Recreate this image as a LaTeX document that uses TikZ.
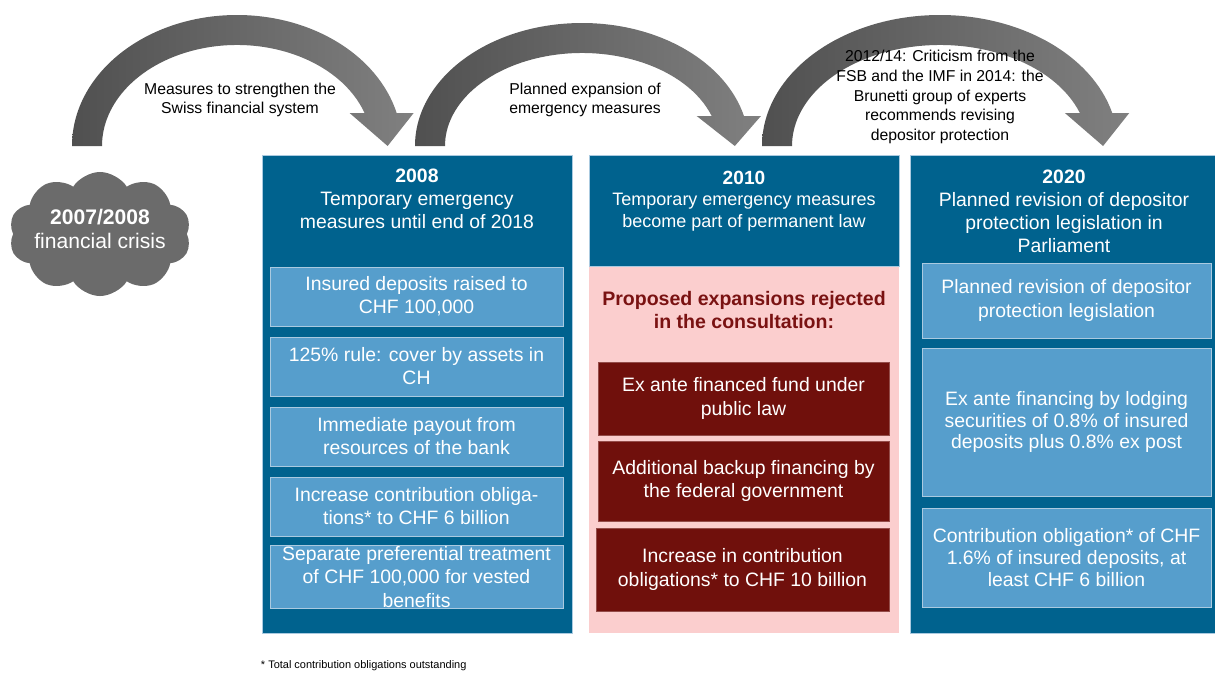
\documentclass[tikz,border=0pt]{standalone}
\usepackage{fontspec}
\setmainfont{Liberation Sans}
\usetikzlibrary{calc,fit,shapes.symbols}

\definecolor{snbblue}{RGB}{0,98,142}
\definecolor{snblight}{RGB}{86,158,204}
\definecolor{snbedge}{RGB}{170,202,224}
\definecolor{snbpink}{RGB}{251,206,206}
\definecolor{snbred}{RGB}{112,16,12}
\definecolor{snbredtxt}{RGB}{122,18,18}
\definecolor{snbgrey}{RGB}{107,107,107}
\definecolor{arrowdark}{RGB}{80,80,80}
\definecolor{arrowlight}{RGB}{128,128,128}

\begin{document}
\begin{tikzpicture}[
    x=0.025cm, y=-0.025cm,      % one unit = one pixel, y downwards
    % ~~~ boxes ~~~~~~~~~~~~~~~~~~~~~~~~~~~~~~~~~~~~~~~~~~~~~
    colbox/.style={fill=snbblue, draw=snbedge, line width=.5pt, inner sep=0pt},
    pinkbox/.style={fill=snbpink, inner sep=0pt},
    wh/.style 2 args={minimum width=#1*0.025cm, minimum height=#2*0.025cm},
    bodytxt/.style={text=white, align=center, font=\fontsize{13.8}{16.4}\selectfont},
    lightbox/.style={fill=snblight, draw=snbedge, line width=.4pt, inner sep=0pt, bodytxt},
    redbox/.style={fill=snbred, draw=snbred!75!white, line width=.4pt, inner sep=0pt, bodytxt},
    headtxt/.style={bodytxt},
    arrowtxt/.style={align=center, font=\fontsize{11.2}{14}\selectfont},
    % ~~~~~~~~~~~~~~~~~~~~~~~~~~~~~~~~~~~~~~~~~~~~~~~~~~~~~~~
    pics/bendarrow/.style args={#1/#2/#3}{    % x radius / y radius / cut height
        code={
            \pgfmathsetmacro\angout{360-asin(#3/#2)}
            \pgfmathsetmacro\angin{360-asin(#3/(#2-30))}
            \pgfmathsetmacro\xout{#1*cos(\angout)}
            \pgfmathsetmacro\xin{(#1-30)*cos(\angin)}
            \pgfmathsetmacro\xtip{(\xout+\xin)/2+7}
            % ~~~ band and head ~~~~~~~~
            \path[left color=arrowdark, right color=arrowlight]
                (-#1,0) arc[start angle=180, end angle=\angout, x radius=#1, y radius=#2]
                -- (\xout+17,-#3) -- (\xtip,0) -- (\xin-15,-#3)
                -- (\xin,-#3) arc[start angle=\angin, end angle=180,
                                  x radius=#1-30, y radius=#2-30]
                -- cycle;
        } % end code
    }, % end pics
 ]
    \useasboundingbox (0,0) rectangle (1215,672);

    % ~~~ the crisis ~~~~~~~~~~~~~~
    \node[cloud, cloud puffs=10, cloud puff arc=115, aspect=1.4,
          minimum width=4.55cm, minimum height=3.1cm, fill=snbgrey,
          inner sep=0pt] (crisis) at (100,234) {};
    \node[text=white, align=center, font=\fontsize{15}{17}\selectfont]
          (crisistxt) at (100,229) {\textbf{2007/2008}\\financial crisis};

    % ~~~ curved arrows ~~~~~~~~~~~
    \pic at (237,146) {bendarrow={165/131/33}};
    \pic at (582,146) {bendarrow={167/123/30}};
    \pic at (940,146) {bendarrow={178/131/33}};

    \node[arrowtxt] (txtswiss) at (240,100)
        {Measures to strengthen the\\Swiss financial system};
    \node[arrowtxt] (txtexpand) at (585,100)
        {Planned expansion of\\emergency measures};
    \node[arrowtxt] (txtbrunetti) at (940,97)
        {2012/14: Criticism from the\\FSB and the IMF in 2014: the\\Brunetti group of experts\\recommends revising\\depositor protection};

    % ~~~ 2008 ~~~~~~~~~~~~~~~~~~~~
    \node[colbox, fit={(262,155)(572,633)}] (col08) {};
    \node[headtxt] (head08) at (417,199)
        {\textbf{2008}\\Temporary emergency\\measures until end of 2018};
    \node[lightbox, wh={293}{59}] (ins08)   at (416.5,296.5) {Insured deposits raised to\\CHF 100,000};
    \node[lightbox, wh={293}{59}] (rule08)  at (416.5,366.5) {125\% rule: cover by assets in\\CH};
    \node[lightbox, wh={293}{59}] (pay08)   at (416.5,436.5) {Immediate payout from\\resources of the bank};
    \node[lightbox, wh={293}{59}] (contr08) at (416.5,506.5) {Increase contribution obliga-\\tions* to CHF 6 billion};
    \node[lightbox, wh={293}{63}] (pref08)  at (416.5,577) {Separate preferential treatment\\of CHF 100,000 for vested\\benefits};

    % ~~~ 2010 ~~~~~~~~~~~~~~~~~~~~
    \node[pinkbox, fit={(589,266)(899,633)}] (rej10) {};
    \node[colbox, fit={(589,155)(899,266)}] (col10) {};
    \node[headtxt, font=\fontsize{12.8}{15.5}\selectfont] (head10) at (744,201)
        {{\fontsize{13.6}{15}\selectfont\textbf{2010}}\\Temporary emergency measures\\become part of permanent law};
    \node[align=center, text=snbredtxt, font=\fontsize{13.9}{17}\selectfont\bfseries]
        (title10) at (744,310) {Proposed expansions rejected\\in the consultation:};
    \node[redbox, wh={291}{73}] (fund10)   at (743.5,398.5) {Ex ante financed fund under\\public law};
    \node[redbox, wh={291}{80}] (backup10) at (743.5,481)   {Additional backup financing by\\the federal government};
    \node[redbox, wh={293}{83}] (contr10)  at (742.5,569.5) {Increase in contribution\\obligations* to CHF 10 billion};

    % ~~~ 2020 ~~~~~~~~~~~~~~~~~~~~
    \node[colbox, fit={(910,155)(1215,633)}] (col20) {};
    \node[headtxt] (head20) at (1064,211)
        {\textbf{2020}\\Planned revision of depositor\\protection legislation in\\Parliament};
    \node[lightbox, wh={289}{75}] (rev20) at (1066.5,300.5) {Planned revision of depositor\\protection legislation};
    \node[lightbox, wh={289}{148}, font=\fontsize{13.8}{15.4}\selectfont] (fin20) at (1066.5,422)
        {Ex ante financing by lodging\\securities of 0.8\% of insured\\deposits plus 0.8\% ex post};
    \node[lightbox, wh={289}{99}, font=\fontsize{13.8}{15.4}\selectfont] (contr20) at (1066.5,557.5)
        {Contribution obligation* of CHF\\1.6\% of insured deposits, at\\least CHF 6 billion};

    % ~~~ footnote ~~~~~~~~~~~~~~~~
    \node[anchor=west, font=\fontsize{7.8}{9}\selectfont] (note) at (256,666)
        {* Total contribution obligations outstanding};
\end{tikzpicture}
\end{document}
